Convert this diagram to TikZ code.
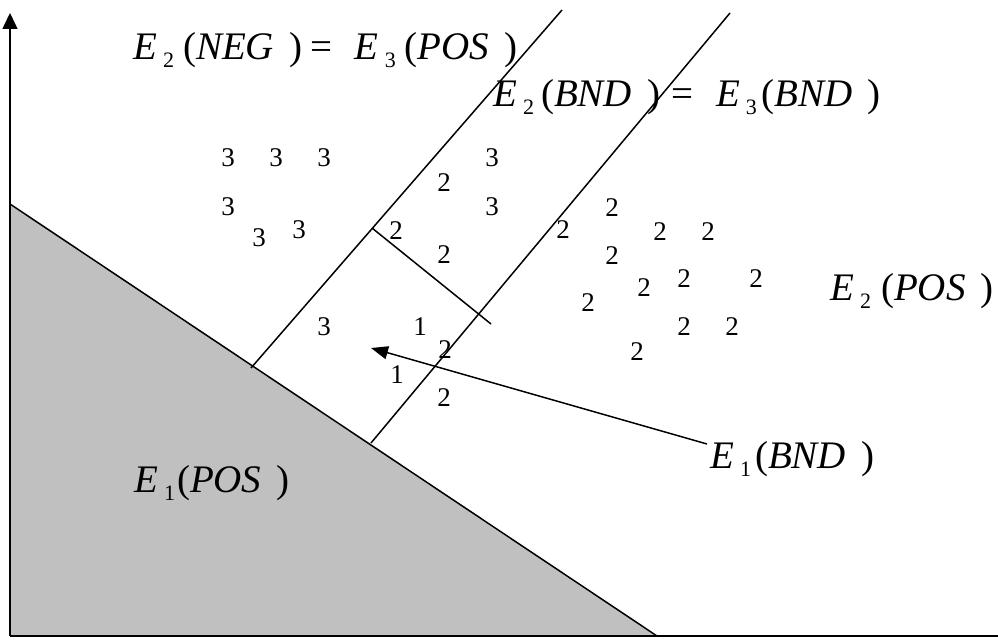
\documentclass[tikz,border=0pt]{standalone}
\usepackage{fontspec}
\setmainfont{Liberation Serif}
\usetikzlibrary{arrows.meta}
\definecolor{regiongray}{RGB}{192,192,192}
\newcommand{\Esym}[1]{\textit{E}\hspace{6pt}\raisebox{-8pt}{\fontsize{22pt}{22pt}\selectfont #1}}
\newcommand{\Par}[1]{(\textit{#1}\hspace{15pt})}
\begin{document}
\begin{tikzpicture}[x=1pt,y=-1pt,
  ln/.style={line width=1.5pt,black},
  big/.style={anchor=base west,inner sep=0pt,font=\fontsize{39pt}{41pt}\selectfont},
  num/.style={inner sep=0pt,anchor=center,font=\fontsize{27pt}{29pt}\selectfont}]
\useasboundingbox (0,0) rectangle (998,644);
\coordinate (O) at (10,636);
\coordinate (Ytop) at (10,13);
\coordinate (Xend) at (998,636);
\coordinate (T) at (10,204);
\coordinate (B) at (657,636);
\coordinate (L1a) at (251,368);
\coordinate (L1b) at (562,10);
\coordinate (L2a) at (371,443);
\coordinate (L2b) at (730,13);
\coordinate (Ca) at (372,228);
\coordinate (Cb) at (491,324);
\coordinate (A0) at (707,444);
\coordinate (A1) at (371,348);
% shaded region
\fill[regiongray] (T) -- (O) -- (B) -- cycle;
\draw[ln] (T) -- (B);
% axes
\draw[ln,-{Triangle[length=16pt,width=15pt]}] (O) -- (Ytop);
\draw[ln] (O) -- (Xend);
% boundary lines
\draw[ln] (L1a) -- (L1b);
\draw[ln] (L2a) -- (L2b);
\draw[ln] (Ca) -- (Cb);
% labels
\node[big] (lab1) at (133,60) {\Esym{2}\hspace{9pt}\Par{NEG}\hspace{9pt}=\hspace{22pt}\Esym{3}\hspace{9pt}\Par{POS}};
\node[big] (lab2) at (493,107) {\Esym{2}\hspace{7pt}\Par{BND}\hspace{12pt}=\hspace{22pt}\Esym{3}\hspace{5pt}\Par{BND}};
\node[big] (lab3) at (830,300) {\Esym{2}\hspace{10pt}\Par{POS}};
\node[big] (lab4) at (710,468) {\Esym{1}\hspace{4pt}\Par{BND}};
\node[big] (lab5) at (134,492) {\Esym{1}\hspace{2pt}\Par{POS}};
% arrow
\draw[ln,-{Triangle[length=17pt,width=13pt]}] (A0) -- (A1);
% numbers
\node[num] (n1) at (228,158) {3};
\node[num] (n2) at (276,158) {3};
\node[num] (n3) at (324,158) {3};
\node[num] (n4) at (492,158) {3};
\node[num] (n5) at (444,183) {2};
\node[num] (n6) at (228,207) {3};
\node[num] (n7) at (492,207) {3};
\node[num] (n8) at (259,238) {3};
\node[num] (n9) at (299,230) {3};
\node[num] (n10) at (396,231) {2};
\node[num] (n11) at (444,255) {2};
\node[num] (n12) at (324,327) {3};
\node[num] (n13) at (420,327) {1};
\node[num] (n14) at (445,350) {2};
\node[num] (n15) at (397,375) {1};
\node[num] (n16) at (444,398) {2};
\node[num] (m1) at (612,208) {2};
\node[num] (m2) at (563,230) {2};
\node[num] (m3) at (660,232) {2};
\node[num] (m4) at (708,232) {2};
\node[num] (m5) at (612,256) {2};
\node[num] (m6) at (644,288) {2};
\node[num] (m7) at (684,279) {2};
\node[num] (m8) at (756,279) {2};
\node[num] (m9) at (588,303) {2};
\node[num] (m10) at (684,327) {2};
\node[num] (m11) at (732,327) {2};
\node[num] (m12) at (637,352) {2};
\end{tikzpicture}
\end{document}
